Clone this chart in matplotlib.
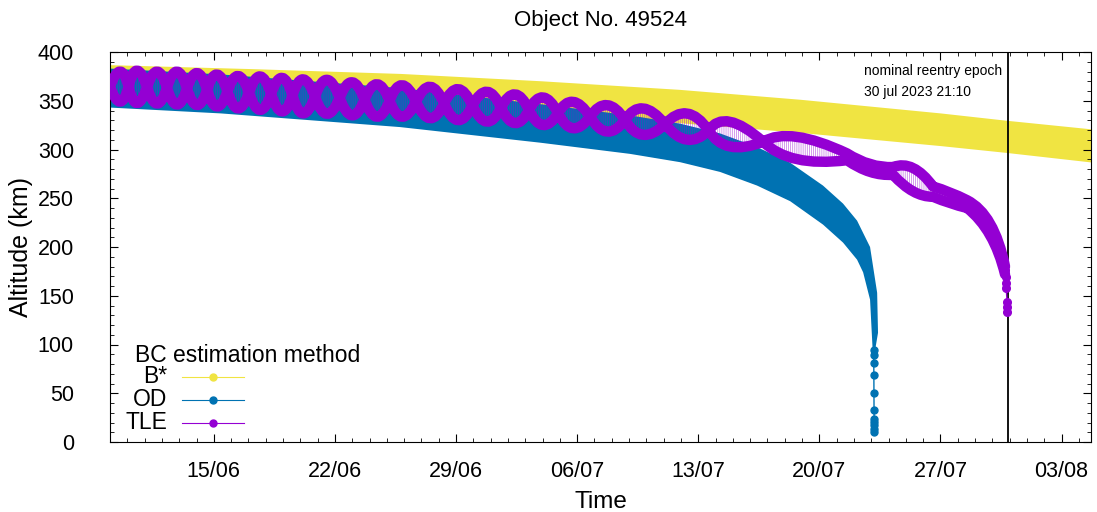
"""
Decay of object 49524: altitude band for three ballistic-coefficient
estimation methods, with the nominal reentry epoch marked.
"""

import datetime as dt

import matplotlib
matplotlib.use("Agg")
import matplotlib.dates as mdates
import matplotlib.pyplot as plt
from matplotlib.patches import PathPatch
from matplotlib.path import Path
from matplotlib.ticker import MultipleLocator


START = dt.datetime(2023, 6, 9)
END_DAY = 56.7
REENTRY = dt.datetime(2023, 7, 30, 21, 10)

YELLOW = "#f0e442"
BLUE = "#0072b2"
PURPLE = "#9400d3"

# B*: altitude band (days since START, km)
BSTAR_DAY = [0.0, 8.1, 16.8, 24.9, 32.9, 39.9, 48.0, 51.8, 56.8]
BSTAR_HIGH = [387, 383, 378, 370.5, 361.7, 351.5, 337.5, 330, 321]
BSTAR_LOW = [353, 349, 344, 336.5, 327.5, 317.5, 304, 297, 287]

# OD: upper and lower edge of the band, then the last points before impact
OD_HIGH_DAY = [0.0, 6.42, 16.76, 24.86, 30.06, 32.95, 35.26, 37.40, 39.31,
               41.21, 42.37, 43.18, 43.93, 44.34, 44.39, 44.22]
OD_HIGH = [383, 377, 363, 346.5, 335, 326.5, 316.5, 302.5, 286.5, 263,
           244.5, 227, 200, 153, 112, 94]
OD_LOW_DAY = [0.0, 6.42, 16.76, 24.86, 30.06, 32.95, 35.26, 37.40, 39.31,
              41.21, 42.37, 43.18, 43.53, 43.93, 44.09]
OD_LOW = [343, 337, 323, 307, 295.5, 287, 277, 263, 247, 223, 204.5, 187,
          174, 146, 91]
OD_DROP_DAY = [44.13, 44.14, 44.145, 44.15, 44.155, 44.16, 44.165, 44.17,
               44.172, 44.175, 44.18]
OD_DROP = [94, 89, 81, 69, 50, 33, 24, 21, 17, 13, 10]

# TLE: the two braided envelopes, as (start, middle, end) arcs;
# the envelopes are equal where they cross
TLE_DAY = [0.0, 0.58, 1.07, 1.56, 2.14, 2.72, 3.29, 3.87, 4.45, 5.03,
           5.61, 6.18, 6.79, 7.40, 8.03, 8.67, 9.31, 9.94, 10.55, 11.16,
           11.85, 12.54, 13.27, 13.99, 14.71, 15.43, 16.16, 16.88, 17.69,
           18.50, 19.31, 20.12, 20.95, 21.79, 22.60, 23.41, 24.22, 25.03,
           25.90, 26.76, 27.75, 28.73, 29.77, 30.81, 32.08, 33.35, 34.60,
           35.84, 37.75, 39.71, 42.60, 43.93, 45.26, 46.42, 47.57, 48.55,
           49.54, 50.87, 51.73]
TLE_HIGH = [364.5, 380, 364.4, 381, 363.9, 380, 363.3, 380, 362.5, 378.5,
            361.3, 377, 359.6, 375.5, 358.3, 375, 357, 373.5, 355.4, 372,
            354.3, 371.5, 353, 369, 351.1, 367, 350, 366, 349, 364.4,
            347.1, 362, 345, 359.3, 342.9, 356.6, 340.5, 353.5, 337.3, 349,
            333.7, 345.6, 330.3, 342.2, 326, 337, 319.6, 328.5, 308, 313,
            296, 285, 282, 281, 262, 256, 248, 224, 180]
TLE_LOW = [364.5, 349, 364.4, 347.5, 363.9, 347, 363.3, 346, 362.5, 345.5,
           361.3, 344, 359.6, 342, 358.3, 340.5, 357, 339, 355.4, 337,
           354.3, 336.5, 353, 335, 351.1, 333.5, 350, 333.5, 349, 332,
           347.1, 330, 345, 328.5, 342.9, 327, 340.5, 325, 337.3, 321.7,
           333.7, 318.3, 330.3, 315, 326, 310, 319.6, 303, 308, 290,
           289, 277, 274, 257, 251.5, 245, 240, 212, 172]
TLE_DROP_DAY = [51.73, 51.79, 51.79, 51.80, 51.85, 51.85, 51.86]
TLE_DROP = [176, 169.5, 162.8, 157.6, 143.9, 138.8, 133.6]

LEGEND_ROWS = [("B*", YELLOW), ("OD", BLUE), ("TLE", PURPLE)]


def to_dates(days):
    return [START + dt.timedelta(days=d) for d in days]


def arc_vertices(days, alts):
    """Quadratic Bezier pieces passing through each (start, mid, end)."""
    xs = mdates.date2num(to_dates(days))
    verts = [(xs[0], alts[0])]
    for i in range(0, len(xs) - 2, 2):
        cx = 2 * xs[i + 1] - (xs[i] + xs[i + 2]) / 2
        cy = 2 * alts[i + 1] - (alts[i] + alts[i + 2]) / 2
        verts += [(cx, cy), (xs[i + 2], alts[i + 2])]
    return verts


def arc_codes(n):
    return [Path.MOVETO] + [Path.CURVE3] * (n - 1)


plt.rcParams["font.family"] = ["Liberation Sans", "DejaVu Sans"]
plt.rcParams["hatch.linewidth"] = 0.5

fig = plt.figure(figsize=(10.97, 5.12), dpi=100)
ax = fig.add_axes([110 / 1097, 70 / 512, 981 / 1097, 390 / 512])

ax.fill_between(to_dates(BSTAR_DAY), BSTAR_LOW, BSTAR_HIGH,
                color=YELLOW, linewidth=0, zorder=1)

od_x = to_dates(OD_HIGH_DAY) + to_dates(OD_LOW_DAY[::-1])
od_y = OD_HIGH + OD_LOW[::-1]
ax.fill(od_x, od_y, color=BLUE, linewidth=0, zorder=2)
ax.plot(to_dates(OD_DROP_DAY), OD_DROP, color=BLUE, lw=1, marker="o",
        ms=5, zorder=3)

ax.axvline(REENTRY, color="black", lw=1.3, zorder=4)

# TLE: hatched area between the envelopes, then the envelopes themselves
upper = arc_vertices(TLE_DAY, TLE_HIGH)
lower = arc_vertices(TLE_DAY, TLE_LOW)
ring = upper + lower[::-1] + [upper[0]]
ring_codes = (arc_codes(len(upper)) + [Path.LINETO]
              + [Path.CURVE3] * (len(lower) - 1) + [Path.CLOSEPOLY])
ax.add_patch(PathPatch(Path(ring, ring_codes), facecolor="none",
                       edgecolor=PURPLE, alpha=0.55, hatch="|" * 8,
                       linewidth=0, zorder=5))
for verts in (upper, lower):
    ax.add_patch(PathPatch(Path(verts, arc_codes(len(verts))), fill=False,
                           edgecolor=PURPLE, lw=7.5, capstyle="round",
                           joinstyle="round", zorder=6))
ax.plot(to_dates(TLE_DROP_DAY), TLE_DROP, color=PURPLE, lw=1, marker="o",
        ms=5.5, zorder=6)

ax.set_xlim(START, START + dt.timedelta(days=END_DAY))
ax.set_ylim(0, 400)
ax.xaxis.set_major_locator(mdates.WeekdayLocator(byweekday=mdates.TH))
ax.xaxis.set_minor_locator(mdates.DayLocator())
ax.xaxis.set_major_formatter(mdates.DateFormatter("%d/%m"))
ax.yaxis.set_major_locator(MultipleLocator(50))
ax.yaxis.set_minor_locator(MultipleLocator(10))
ax.tick_params(which="both", direction="in", top=True, right=True,
               labelsize=15.5)
ax.tick_params(axis="x", pad=14)
ax.tick_params(axis="y", pad=26)
ax.tick_params(which="major", length=6)
ax.tick_params(which="minor", length=3)

ax.set_title("Object No. 49524", fontsize=16, pad=19)
ax.set_xlabel("Time", fontsize=17.5, labelpad=6)
ax.set_ylabel("Altitude (km)", fontsize=18, labelpad=3)

ax.text(0.769, 0.969, "nominal reentry epoch\n30 jul 2023 21:10",
        transform=ax.transAxes, fontsize=10, va="top", linespacing=1.6)

# key in the lower left corner: name, then a line sample with a point
ax.text(0.025, 0.223, "BC estimation method", transform=ax.transAxes,
        fontsize=16.5, va="center")
for row, (name, color) in enumerate(LEGEND_ROWS):
    y = 0.167 - row * 0.059
    ax.text(0.058, y, name, transform=ax.transAxes, fontsize=16.5,
            ha="right", va="center")
    ax.plot([0.073, 0.137], [y, y], color=color, lw=0.8,
            transform=ax.transAxes, zorder=7)
    ax.plot([0.105], [y], "o", color=color, ms=5,
            transform=ax.transAxes, zorder=7)

fig.savefig("out.png", dpi=100)
